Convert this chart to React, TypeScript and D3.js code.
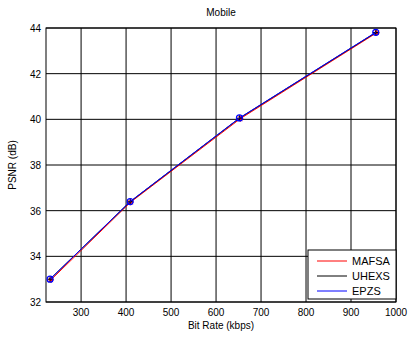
import React, { useEffect, useRef } from "react";
import * as d3 from "d3";

const seriesNames = ["MAFSA", "UHEXS", "EPZS"];
const seriesColors = ["#ff0000", "#000000", "#0000ff"];
const mafsaRate = [233, 410, 654, 957];
const mafsaPsnr = [32.97, 36.37, 40.03, 43.79];
const uhexsRate = [231, 409, 652, 955];
const uhexsPsnr = [33.0, 36.39, 40.05, 43.8];
const epzsRate = [231, 409, 652, 955];
const epzsPsnr = [33.0, 36.4, 40.06, 43.81];
const xTicks = [300, 400, 500, 600, 700, 800, 900, 1000];
const yTicks = [32, 34, 36, 38, 40, 42, 44];

const App: React.FC = () => {
  const svgRef = useRef<SVGSVGElement | null>(null);

  useEffect(() => {
    const svg = d3.select(svgRef.current);
    svg.selectAll("*").remove();

    const w = 409;
    const h = 338;
    const m = { top: 28, right: 13, bottom: 36, left: 46 };
    const font = "'Liberation Sans', Arial, sans-serif";

    svg.attr("width", w).attr("height", h).style("background", "#ffffff");

    const x = d3.scaleLinear().domain([222, 1000]).range([m.left, w - m.right]);
    const y = d3.scaleLinear().domain([32, 44]).range([h - m.bottom, m.top]);

    // grid
    const g = svg.append("g");
    xTicks.forEach(t => {
      g.append("line")
        .attr("x1", x(t)).attr("x2", x(t))
        .attr("y1", y(32)).attr("y2", y(44))
        .attr("stroke", "#000").attr("stroke-width", 1);
    });
    yTicks.forEach(t => {
      g.append("line")
        .attr("x1", x(222)).attr("x2", x(1000))
        .attr("y1", y(t)).attr("y2", y(t))
        .attr("stroke", "#000").attr("stroke-width", 1);
    });

    // frame
    svg.append("rect")
      .attr("x", x(222)).attr("y", y(44))
      .attr("width", x(1000) - x(222)).attr("height", y(32) - y(44))
      .attr("fill", "none").attr("stroke", "#000").attr("stroke-width", 1);

    // tick labels
    xTicks.forEach(t => {
      svg.append("text")
        .attr("x", x(t)).attr("y", y(32) + 14)
        .attr("text-anchor", "middle")
        .style("font-family", font).style("font-size", "10px")
        .text(t);
    });
    yTicks.forEach(t => {
      svg.append("text")
        .attr("x", x(222) - 5).attr("y", y(t) + 4)
        .attr("text-anchor", "end")
        .style("font-family", font).style("font-size", "10px")
        .text(t);
    });

    svg.append("text")
      .attr("x", (x(222) + x(1000)) / 2).attr("y", 16)
      .attr("text-anchor", "middle")
      .style("font-family", font).style("font-size", "10px")
      .text("Mobile");

    svg.append("text")
      .attr("x", (x(222) + x(1000)) / 2).attr("y", h - 9)
      .attr("text-anchor", "middle")
      .style("font-family", font).style("font-size", "10px")
      .text("Bit Rate (kbps)");

    svg.append("text")
      .attr("transform", `rotate(-90)`)
      .attr("x", -(y(32) + y(44)) / 2).attr("y", 16)
      .attr("text-anchor", "middle")
      .style("font-family", font).style("font-size", "10px")
      .text("PSNR (dB)");

    const data = [
      mafsaRate.map((r, i) => [r, mafsaPsnr[i]] as [number, number]),
      uhexsRate.map((r, i) => [r, uhexsPsnr[i]] as [number, number]),
      epzsRate.map((r, i) => [r, epzsPsnr[i]] as [number, number]),
    ];

    const line = d3.line<[number, number]>().x(d => x(d[0])).y(d => y(d[1]));

    data.forEach((pts, si) => {
      const c = seriesColors[si];
      svg.append("path")
        .datum(pts)
        .attr("d", line)
        .attr("fill", "none")
        .attr("stroke", c)
        .attr("stroke-width", 1);

      pts.forEach(p => {
        const px = x(p[0]);
        const py = y(p[1]);
        if (si === 0) {
          // star marker
          const s = 3;
          [[-s, 0, s, 0], [0, -s, 0, s], [-s * 0.7, -s * 0.7, s * 0.7, s * 0.7], [-s * 0.7, s * 0.7, s * 0.7, -s * 0.7]]
            .forEach(([a, b, cc, d]) => {
              svg.append("line")
                .attr("x1", px + a).attr("y1", py + b)
                .attr("x2", px + cc).attr("y2", py + d)
                .attr("stroke", c).attr("stroke-width", 1);
            });
        } else if (si === 1) {
          svg.append("path")
            .attr("d", `M${px - 3},${py}L${px + 3},${py}M${px},${py - 3}L${px},${py + 3}`)
            .attr("stroke", c).attr("stroke-width", 1);
        } else {
          svg.append("circle")
            .attr("cx", px).attr("cy", py).attr("r", 3)
            .attr("fill", "none").attr("stroke", c).attr("stroke-width", 1.2);
        }
      });
    });

    // legend
    const lx = 308;
    const ly = 250;
    const legend = svg.append("g").attr("transform", `translate(${lx}, ${ly})`);
    legend.append("rect")
      .attr("width", 88).attr("height", 49)
      .attr("fill", "#fff").attr("stroke", "#000").attr("stroke-width", 1);
    seriesNames.forEach((name, i) => {
      const yy = 11 + i * 15;
      legend.append("line")
        .attr("x1", 9).attr("x2", 39)
        .attr("y1", yy).attr("y2", yy)
        .attr("stroke", seriesColors[i]).attr("stroke-width", 1);
      legend.append("text")
        .attr("x", 44).attr("y", yy + 4)
        .style("font-family", font).style("font-size", "11px")
        .text(name);
    });
  }, []);

  return (
    <div style={{ position: "absolute", left: 0, top: 0 }}>
      <svg ref={svgRef} style={{ display: "block" }}></svg>
    </div>
  );
};

export default App;
